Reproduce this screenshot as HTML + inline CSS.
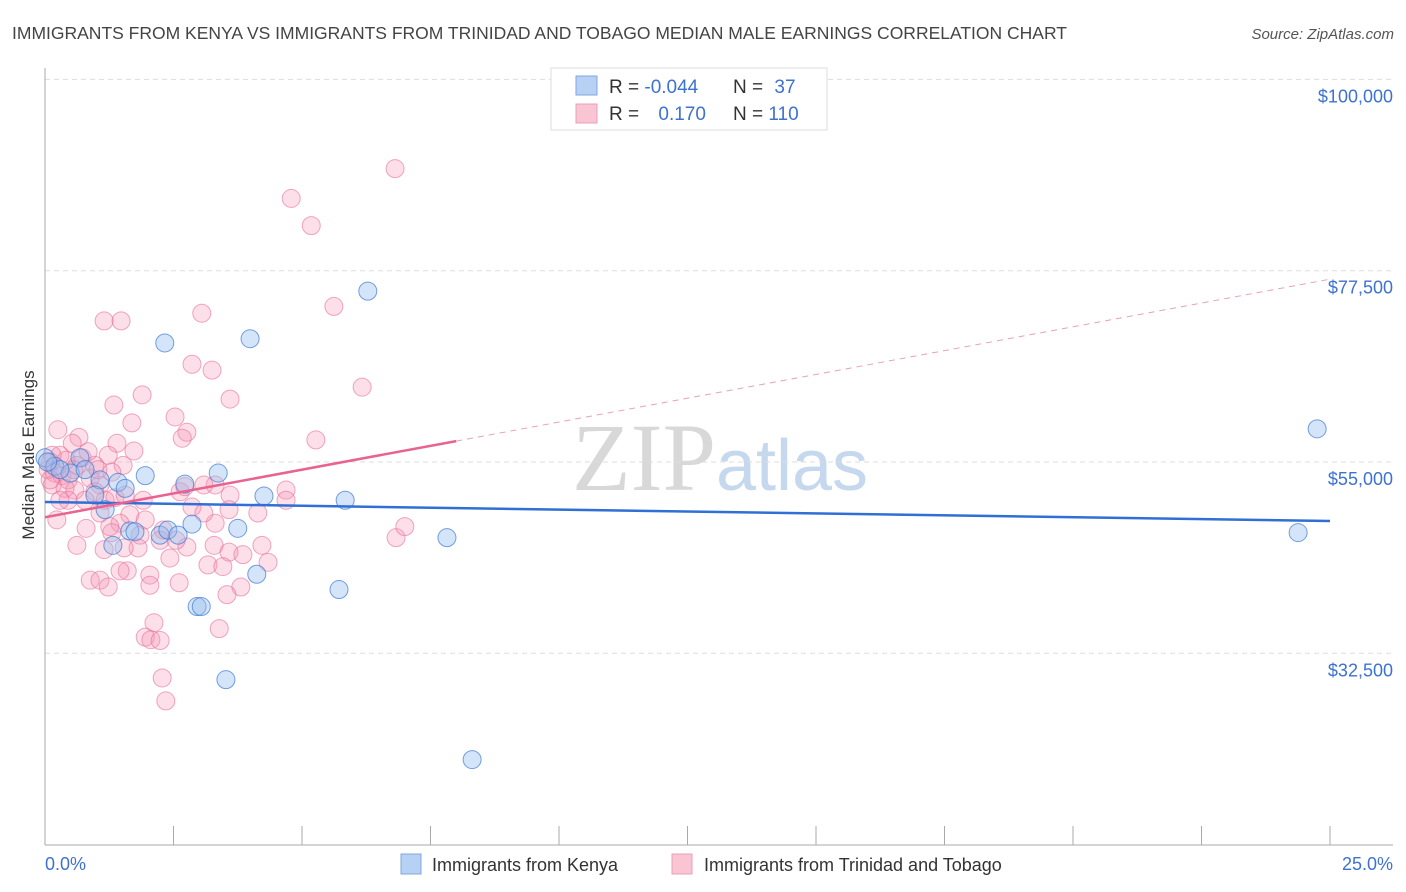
<!DOCTYPE html>
<html><head><meta charset="utf-8"><style>
body{margin:0;background:#fff;}
svg{display:block;font-family:"Liberation Sans",sans-serif;}
</style></head><body>
<svg id="chart" width="1406" height="892" viewBox="0 0 1406 892" xmlns="http://www.w3.org/2000/svg">
<text x="12" y="39" font-size="17.5" fill="#444">IMMIGRANTS FROM KENYA VS IMMIGRANTS FROM TRINIDAD AND TOBAGO MEDIAN MALE EARNINGS CORRELATION CHART</text>
<text x="1394" y="39" font-size="15" fill="#555" text-anchor="end" font-style="italic">Source: ZipAtlas.com</text>
<text x="720" y="490" font-size="96" text-anchor="middle" font-family="Liberation Serif, serif"><tspan fill="#d8d8d8">ZIP</tspan><tspan fill="#c5d8ee" font-family="Liberation Sans, sans-serif" font-size="72">atlas</tspan></text>
<g id="grid"></g>
<g id="axes"></g>
<g id="pts"></g>
<g id="trends"></g>
<text transform="translate(34,455) rotate(-90)" font-size="17" fill="#333" text-anchor="middle">Median Male Earnings</text>
<g>
<rect x="551" y="68" width="276" height="62" fill="#fff" stroke="#ddd"/>
<rect x="576" y="76" width="21" height="19" fill="#b7d1f4" stroke="#7fa7e0"/>
<rect x="576" y="104" width="21" height="19" fill="#f9c4d3" stroke="#eba0b6"/>
<text x="609" y="93" font-size="19" fill="#333">R = <tspan fill="#3d72d3">-0.044</tspan></text>
<text x="733" y="93" font-size="19" fill="#333">N = <tspan fill="#3d72d3" dx="6">37</tspan></text>
<text x="609" y="120" font-size="19" fill="#333">R = <tspan fill="#3d72d3" dx="14">0.170</tspan></text>
<text x="733" y="120" font-size="19" fill="#333">N = <tspan fill="#3d72d3">110</tspan></text>
</g>
<g>
<rect x="401" y="854" width="20" height="20" fill="#b7d1f4" stroke="#7fa7e0"/>
<text x="432" y="871" font-size="18" fill="#333">Immigrants from Kenya</text>
<rect x="672" y="854" width="20" height="20" fill="#f9c4d3" stroke="#eba0b6"/>
<text x="704" y="871" font-size="18" fill="#333">Immigrants from Trinidad and Tobago</text>
</g>
</svg>
<script>
const yTicks=[32500,55000,77500,100000];
const yTickLabels=["$32,500","$55,000","$77,500","$100,000"];
const xTicks=[0,2.5,5,7.5,10,12.5,15,17.5,20,22.5,25];
const xTickLabels=["0.0%","25.0%"];
const kenyaX=[0,.19,.68,.49,1.07,1.42,1.56,1.95,.97,1.17,1.32,1.65,1.75,2.24,2.39,2.59,2.72,2.86,3.37,3.75,4.26,5.84,6.28,3.99,2.33,2.96,3.04,3.52,4.12,5.72,7.82,8.31,24.75,24.38,.29,.05,.78];
const kenyaY=[55.5,54.5,55.5,53.7,52.9,52.6,51.9,53.4,51.1,49.4,45.2,46.9,46.8,46.4,47.0,46.4,52.4,47.7,53.7,47.2,51.0,50.5,75.1,69.5,69.0,38.0,38.0,29.4,41.8,40.0,46.1,20.0,58.9,46.7,54.1,55.0,54.1];
const trinX=[6.81,4.79,5.18,5.62,3.05,1.15,1.48,2.86,3.25,6.17,3.60,1.89,1.34,2.53,1.69,.25,.66,.53,2.76,2.67,5.27,1.40,1.73,.72,1.23,1.52,.97,.29,.10,.06,.19,.33,.45,.14,.39,.88,1.07,.58,.97,.78,1.17,1.36,1.56,1.91,1.65,1.46,1.26,1.07,.80,1.95,2.63,2.72,2.86,3.31,4.69,4.69,4.14,3.58,3.31,3.09,2.30,2.24,1.85,1.81,1.15,.62,1.30,2.76,2.43,3.29,3.58,3.85,4.22,4.34,3.17,3.46,2.04,1.60,1.46,.88,1.07,1.23,2.04,2.61,3.81,3.54,2.12,1.95,2.06,2.24,3.39,2.28,2.35,6.83,7.00,.23,.45,.62,.84,1.03,.41,.56,.14,.29,1.54,3.09,2.55,3.60,.10,1.30];
const trinY=[89.5,86.0,82.8,73.3,72.5,71.6,71.6,66.5,65.8,63.8,62.4,62.9,61.7,60.3,59.6,58.8,57.9,57.2,58.5,57.8,57.6,57.2,56.3,55.5,55.8,54.6,54.6,55.8,55.0,54.1,53.7,53.4,52.9,52.3,51.9,53.1,52.3,51.7,51.5,50.5,50.5,50.8,51.1,50.5,48.8,47.8,47.4,49.0,47.2,48.2,51.5,52.1,49.7,52.3,51.7,50.5,49.0,49.4,47.8,49.0,47.0,45.8,46.4,44.9,44.7,45.2,46.7,45.0,43.7,45.2,44.4,44.1,45.2,43.2,42.9,42.7,41.7,42.2,42.2,41.1,41.1,40.3,40.5,40.8,40.3,39.4,36.1,34.4,34.1,34.0,35.4,29.6,26.9,46.1,47.4,48.2,50.5,54.6,56.2,54.1,55.2,54.1,55.8,50.5,44.9,52.3,45.8,51.1,52.9,53.8];
const kenyaTrend=[50.3,48.06];
const trinTrend=[48.5,76.5];
const trinSolidEnd=8.0;

const NS="http://www.w3.org/2000/svg";
function sx(p){return 45+p*(1330-45)/25;}
function sy(k){return 462-(k*1000-55000)*191.3/22500;}
function mk(tag,attrs,parent){const e=document.createElementNS(NS,tag);for(const k in attrs)e.setAttribute(k,attrs[k]);parent.appendChild(e);return e;}
const grid=document.getElementById('grid'),axes=document.getElementById('axes'),pts=document.getElementById('pts'),tr=document.getElementById('trends');
yTicks.forEach((v,i)=>{
  const y=sy(v/1000);
  const l=mk('line',{x1:45,x2:1393,y1:y,y2:y,stroke:'#ddd','stroke-dasharray':'5,4'},grid);
  
  
  const t=mk('text',{x:1393,y:y+23,'font-size':18,fill:'#3d72d3','text-anchor':'end'},axes);
  t.textContent=yTickLabels[i];
  
  
});
const xa=mk('line',{x1:45,x2:1393,y1:845,y2:845,stroke:'#aaa'},axes);


const ya=mk('line',{x1:45,x2:45,y1:68,y2:845,stroke:'#aaa'},axes);


xTicks.forEach(p=>{
  const tk=mk('line',{x1:sx(p),x2:sx(p),y1:826,y2:845,stroke:'#aaa'},axes);
  
  
});
const xl0=mk('text',{x:45,y:870,'font-size':18,fill:'#3d72d3'},axes);xl0.textContent=xTickLabels[0];


const xl1=mk('text',{x:1393,y:870,'font-size':18,fill:'#3d72d3','text-anchor':'end'},axes);xl1.textContent=xTickLabels[1];


trinX.forEach((x,i)=>{
  const c=mk('circle',{cx:sx(x),cy:sy(trinY[i]),r:9,fill:'rgba(244,150,180,0.3)',stroke:'rgba(232,110,150,0.6)','stroke-width':1},pts);
  
  
});
kenyaX.forEach((x,i)=>{
  const c=mk('circle',{cx:sx(x),cy:sy(kenyaY[i]),r:9,fill:'rgba(150,190,240,0.4)',stroke:'rgba(60,120,210,0.7)','stroke-width':1},pts);
  
  
});
const kl=mk('line',{x1:sx(0),y1:sy(kenyaTrend[0]),x2:sx(25),y2:sy(kenyaTrend[1]),stroke:'#2f6fd6','stroke-width':2.5},tr);


const tAt=p=>trinTrend[0]+(trinTrend[1]-trinTrend[0])*p/25;
const ts=mk('line',{x1:sx(0),y1:sy(tAt(0)),x2:sx(trinSolidEnd),y2:sy(tAt(trinSolidEnd)),stroke:'#e8638f','stroke-width':2.5},tr);


const td=mk('line',{x1:sx(trinSolidEnd),y1:sy(tAt(trinSolidEnd)),x2:sx(25),y2:sy(tAt(25)),stroke:'#e8a0b8','stroke-width':1,'stroke-dasharray':'6,5'},tr);


</script>
</body></html>
